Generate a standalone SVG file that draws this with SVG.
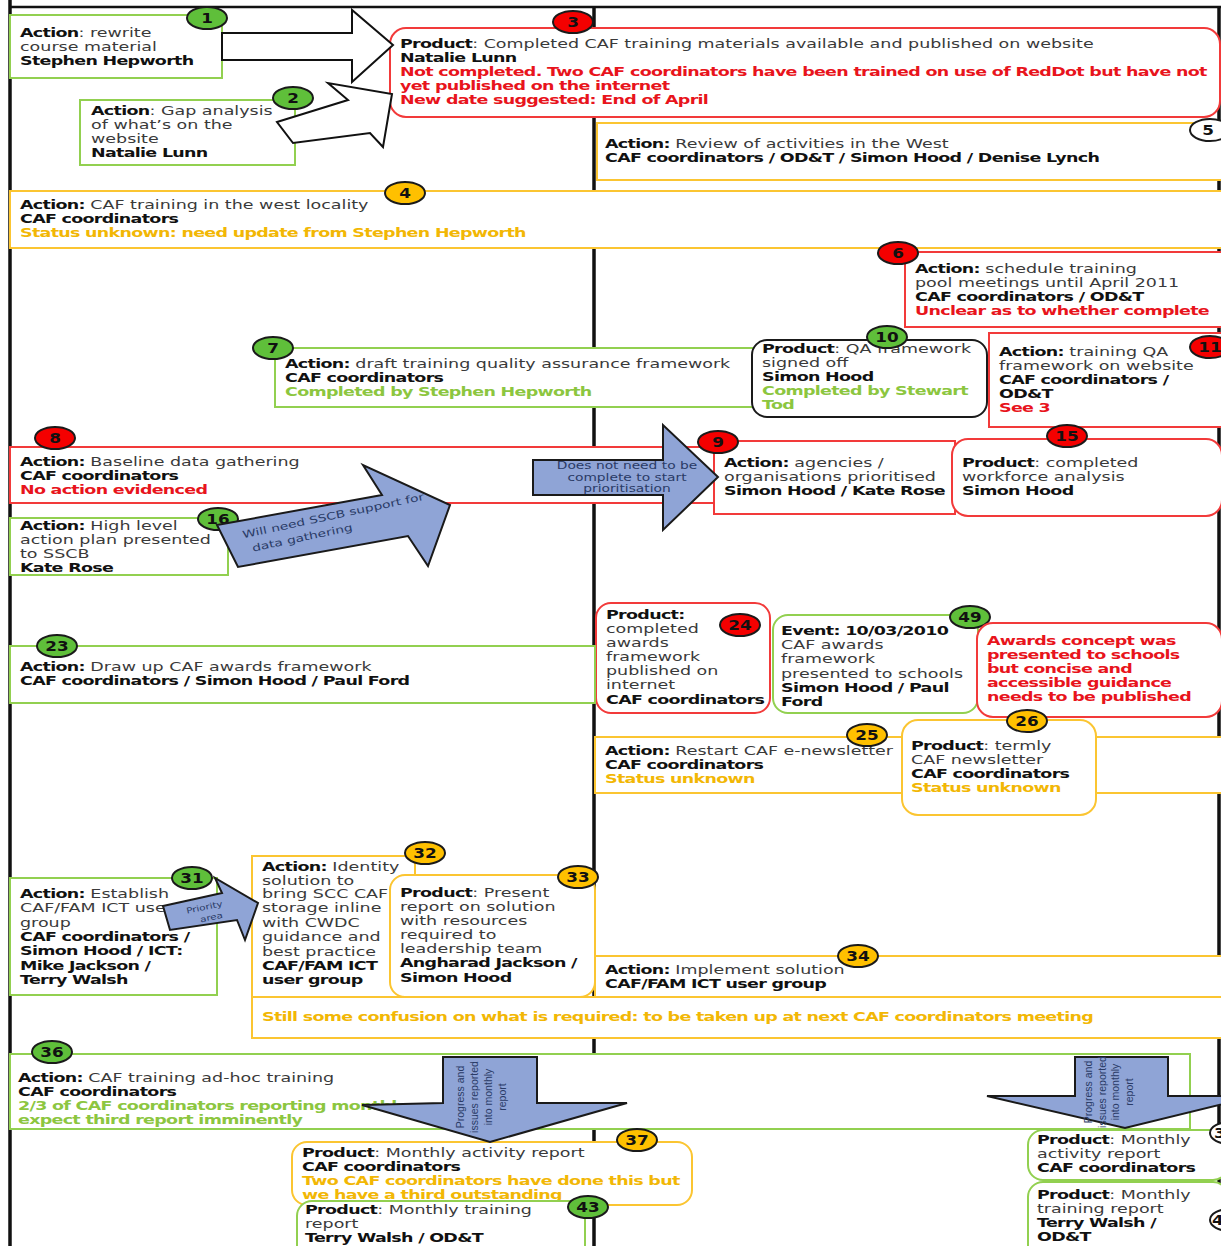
<svg xmlns="http://www.w3.org/2000/svg" width="1221" height="1246" viewBox="0 0 1221 1246">
<style>
.t{font-family:"DejaVu Sans",Verdana,sans-serif;font-size:12.5px;fill:#3a3a3a}
.b{font-weight:bold;fill:#111;letter-spacing:-0.5px}
.r{font-weight:bold;fill:#e8141c;letter-spacing:-0.5px}
.o{font-weight:bold;fill:#f2b705;letter-spacing:-0.5px}
.g{font-weight:bold;fill:#8cc63f;letter-spacing:-0.5px}
.bg{fill:#fff;stroke:#92d050;stroke-width:2}
.br{fill:#fff;stroke:#f23a3a;stroke-width:2}
.by{fill:#fff;stroke:#fbc531;stroke-width:2}
.bk{fill:#fff;stroke:#1a1a1a;stroke-width:2}
.cg{fill:#5fbf3a;stroke:#1a1a1a;stroke-width:2}
.cr{fill:#f40000;stroke:#1a1a1a;stroke-width:2}
.cy{fill:#ffc000;stroke:#1a1a1a;stroke-width:2}
.cw{fill:#fff;stroke:#1a1a1a;stroke-width:2}
.n{font-family:"DejaVu Sans",Verdana,sans-serif;font-weight:bold;font-size:14px;fill:#111;text-anchor:middle}
.ns{font-family:"DejaVu Sans",Verdana,sans-serif;font-weight:bold;font-size:14px;fill:#111}
.frame{stroke:#111;fill:none}
.ha{fill:#fff;stroke:#111;stroke-width:2;stroke-linejoin:miter}
.ba{fill:#8fa4d6;stroke:#1a1a1a;stroke-width:2;stroke-linejoin:miter}
.at{font-family:"DejaVu Sans",Verdana,sans-serif;font-size:10px;fill:#2a3b66;text-anchor:middle}
.av{font-family:"Liberation Sans",Arial,sans-serif;font-size:10.5px;fill:#2a3b66;text-anchor:middle}
</style>

<g id="frame">
<line class="frame" x1="10" y1="0" x2="10" y2="1246" stroke-width="3.5"/>
<line class="frame" x1="594" y1="7" x2="594" y2="1246" stroke-width="3.5"/>
<line class="frame" x1="1219" y1="7" x2="1219" y2="1246" stroke-width="3.5"/>
<line class="frame" x1="9" y1="7" x2="1221" y2="7" stroke-width="2.5"/>
</g>

<g id="n1">
<rect class="bg" x="10" y="15" width="212" height="63"/>
<text class="t" transform="translate(20,37) scale(1.4,1)"><tspan x="0" y="0"><tspan class="b">Action</tspan>: rewrite</tspan><tspan x="0" y="14">course material</tspan><tspan x="0" y="28" class="b">Stephen Hepworth</tspan></text>
<ellipse class="cg" cx="207" cy="18" rx="20" ry="11"/><text class="n" transform="translate(207,23) scale(1.2,1)">1</text>
</g>

<g id="n2">
<rect class="bg" x="80" y="100" width="215" height="65"/>
<text class="t" transform="translate(91,115) scale(1.4,1)"><tspan x="0" y="0"><tspan class="b">Action</tspan>: Gap analysis</tspan><tspan x="0" y="14">of what’s on the</tspan><tspan x="0" y="28">website</tspan><tspan x="0" y="42" class="b">Natalie Lunn</tspan></text>
<ellipse class="cg" cx="293" cy="98" rx="20" ry="11"/><text class="n" transform="translate(293,103) scale(1.2,1)">2</text>
</g>

<g id="n3">
<rect class="br" x="390" y="28" width="830" height="89" rx="16"/>
<text class="t" transform="translate(400,48) scale(1.4,1)"><tspan x="0" y="0"><tspan class="b">Product</tspan>: Completed CAF training materials available and published on website</tspan><tspan x="0" y="14" class="b">Natalie Lunn</tspan><tspan x="0" y="28" class="r">Not completed. Two CAF coordinators have been trained on use of RedDot but have not</tspan><tspan x="0" y="42" class="r">yet published on the internet</tspan><tspan x="0" y="56" class="r">New date suggested: End of April</tspan></text>
<ellipse class="cr" cx="573" cy="22" rx="20" ry="11"/><text class="n" transform="translate(573,27) scale(1.2,1)">3</text>
</g>

<g id="n5">
<rect class="by" x="597" y="123" width="625" height="57"/>
<text class="t" transform="translate(605,148) scale(1.4,1)"><tspan x="0" y="0"><tspan class="b">Action:</tspan> Review of activities in the West</tspan><tspan x="0" y="14" class="b">CAF coordinators / OD&amp;T / Simon Hood / Denise Lynch</tspan></text>
<ellipse class="cw" cx="1210" cy="130" rx="20" ry="11"/><text class="n" transform="translate(1208,135) scale(1.2,1)">5</text>
</g>

<g id="n4">
<rect class="by" x="10" y="191" width="1212" height="57"/>
<text class="t" transform="translate(20,209) scale(1.4,1)"><tspan x="0" y="0"><tspan class="b">Action:</tspan> CAF training in the west locality</tspan><tspan x="0" y="14" class="b">CAF coordinators</tspan><tspan x="0" y="28" class="o">Status unknown: need update from Stephen Hepworth</tspan></text>
<ellipse class="cy" cx="405" cy="193" rx="20" ry="11"/><text class="n" transform="translate(405,198) scale(1.2,1)">4</text>
</g>

<g id="n6">
<rect class="br" x="905" y="252" width="317" height="75"/>
<text class="t" transform="translate(915,273) scale(1.4,1)"><tspan x="0" y="0"><tspan class="b">Action:</tspan> schedule training</tspan><tspan x="0" y="14">pool meetings until April 2011</tspan><tspan x="0" y="28" class="b">CAF coordinators / OD&amp;T</tspan><tspan x="0" y="42" class="r">Unclear as to whether complete</tspan></text>
<ellipse class="cr" cx="898" cy="253" rx="20" ry="11"/><text class="n" transform="translate(898,258) scale(1.2,1)">6</text>
</g>

<g id="n7">
<rect class="bg" x="275" y="348" width="480" height="59"/>
<text class="t" transform="translate(285,368) scale(1.4,1)"><tspan x="0" y="0"><tspan class="b">Action:</tspan> draft training quality assurance framework</tspan><tspan x="0" y="14" class="b">CAF coordinators</tspan><tspan x="0" y="28" class="g">Completed by Stephen Hepworth</tspan></text>
<ellipse class="cg" cx="273" cy="348" rx="20" ry="11"/><text class="n" transform="translate(273,353) scale(1.2,1)">7</text>
</g>

<g id="n10">
<rect class="bk" x="752" y="340" width="235" height="77" rx="15"/>
<text class="t" transform="translate(762,353) scale(1.4,1)"><tspan x="0" y="0"><tspan class="b">Product</tspan>: QA framework</tspan><tspan x="0" y="14">signed off</tspan><tspan x="0" y="28" class="b">Simon Hood</tspan><tspan x="0" y="42" class="g">Completed by Stewart</tspan><tspan x="0" y="56" class="g">Tod</tspan></text>
<ellipse class="cg" cx="887" cy="337" rx="20" ry="11"/><text class="n" transform="translate(887,342) scale(1.2,1)">10</text>
</g>

<g id="n11">
<rect class="br" x="989" y="333" width="233" height="94"/>
<text class="t" transform="translate(999,356) scale(1.4,1)"><tspan x="0" y="0"><tspan class="b">Action:</tspan> training QA</tspan><tspan x="0" y="14">framework on website</tspan><tspan x="0" y="28" class="b">CAF coordinators /</tspan><tspan x="0" y="42" class="b">OD&amp;T</tspan><tspan x="0" y="56" class="r">See 3</tspan></text>
<ellipse class="cr" cx="1210" cy="347" rx="20" ry="11"/><text class="n" transform="translate(1210,352) scale(1.2,1)">11</text>
</g>

<g id="n8">
<rect class="br" x="10" y="447" width="705" height="56"/>
<text class="t" transform="translate(20,466) scale(1.4,1)"><tspan x="0" y="0"><tspan class="b">Action:</tspan> Baseline data gathering</tspan><tspan x="0" y="14" class="b">CAF coordinators</tspan><tspan x="0" y="28" class="r">No action evidenced</tspan></text>
<ellipse class="cr" cx="55" cy="438" rx="20" ry="11"/><text class="n" transform="translate(55,443) scale(1.2,1)">8</text>
</g>

<g id="n9">
<rect class="br" x="714" y="441" width="241" height="73"/>
<text class="t" transform="translate(724,467) scale(1.4,1)"><tspan x="0" y="0"><tspan class="b">Action:</tspan> agencies /</tspan><tspan x="0" y="14">organisations prioritised</tspan><tspan x="0" y="28" class="b">Simon Hood / Kate Rose</tspan></text>
<ellipse class="cr" cx="718" cy="442" rx="20" ry="11"/><text class="n" transform="translate(718,447) scale(1.2,1)">9</text>
</g>

<g id="n15">
<rect class="br" x="952" y="439" width="270" height="77" rx="16"/>
<text class="t" transform="translate(962,467) scale(1.4,1)"><tspan x="0" y="0"><tspan class="b">Product</tspan>: completed</tspan><tspan x="0" y="14">workforce analysis</tspan><tspan x="0" y="28" class="b">Simon Hood</tspan></text>
<ellipse class="cr" cx="1067" cy="436" rx="20" ry="11"/><text class="n" transform="translate(1067,441) scale(1.2,1)">15</text>
</g>

<g id="n16">
<rect class="bg" x="10" y="518" width="218" height="57"/>
<text class="t" transform="translate(20,530) scale(1.4,1)"><tspan x="0" y="0"><tspan class="b">Action:</tspan> High level</tspan><tspan x="0" y="14">action plan presented</tspan><tspan x="0" y="28">to SSCB</tspan><tspan x="0" y="42" class="b">Kate Rose</tspan></text>
<ellipse class="cg" cx="218" cy="519" rx="20" ry="11"/><text class="n" transform="translate(218,524) scale(1.2,1)">16</text>
</g>

<g id="n24">
<rect class="br" x="596" y="603" width="174" height="110" rx="15"/>
<text class="t" transform="translate(606,619) scale(1.4,1)"><tspan x="0" y="0" class="b">Product:</tspan><tspan x="0" y="14">completed</tspan><tspan x="0" y="28">awards</tspan><tspan x="0" y="42">framework</tspan><tspan x="0" y="56">published on</tspan><tspan x="0" y="70">internet</tspan><tspan x="0" y="85" class="b">CAF coordinators</tspan></text>
<ellipse class="cr" cx="740" cy="625" rx="20" ry="11"/><text class="n" transform="translate(740,630) scale(1.2,1)">24</text>
</g>

<g id="n49">
<rect class="bg" x="773" y="615" width="205" height="98" rx="15"/>
<text class="t" transform="translate(781,635) scale(1.4,1)"><tspan x="0" y="0" class="b">Event: 10/03/2010</tspan><tspan x="0" y="14">CAF awards</tspan><tspan x="0" y="28">framework</tspan><tspan x="0" y="43">presented to schools</tspan><tspan x="0" y="57" class="b">Simon Hood / Paul</tspan><tspan x="0" y="71" class="b">Ford</tspan></text>
<ellipse class="cg" cx="970" cy="617" rx="20" ry="11"/><text class="n" transform="translate(970,622) scale(1.2,1)">49</text>
</g>

<g id="n49note">
<rect class="br" x="977" y="623" width="245" height="94" rx="16"/>
<text class="t" transform="translate(987,645) scale(1.4,1)"><tspan x="0" y="0" class="r">Awards concept was</tspan><tspan x="0" y="14" class="r">presented to schools</tspan><tspan x="0" y="28" class="r">but concise and</tspan><tspan x="0" y="42" class="r">accessible guidance</tspan><tspan x="0" y="56" class="r">needs to be published</tspan></text>
</g>

<g id="n23">
<rect class="bg" x="10" y="646" width="585" height="57"/>
<text class="t" transform="translate(20,671) scale(1.4,1)"><tspan x="0" y="0"><tspan class="b">Action:</tspan> Draw up CAF awards framework</tspan><tspan x="0" y="14" class="b">CAF coordinators / Simon Hood / Paul Ford</tspan></text>
<ellipse class="cg" cx="57" cy="646" rx="20" ry="11"/><text class="n" transform="translate(57,651) scale(1.2,1)">23</text>
</g>

<g id="n25">
<rect class="by" x="595" y="737" width="627" height="56"/>
<text class="t" transform="translate(605,755) scale(1.4,1)"><tspan x="0" y="0"><tspan class="b">Action:</tspan> Restart CAF e-newsletter</tspan><tspan x="0" y="14" class="b">CAF coordinators</tspan><tspan x="0" y="28" class="o">Status unknown</tspan></text>
<ellipse class="cy" cx="867" cy="735" rx="20" ry="11"/><text class="n" transform="translate(867,740) scale(1.2,1)">25</text>
</g>

<g id="n26">
<rect class="by" x="902" y="720" width="194" height="95" rx="16"/>
<text class="t" transform="translate(911,750) scale(1.4,1)"><tspan x="0" y="0"><tspan class="b">Product</tspan>: termly</tspan><tspan x="0" y="14">CAF newsletter</tspan><tspan x="0" y="28" class="b">CAF coordinators</tspan><tspan x="0" y="42" class="o">Status unknown</tspan></text>
<ellipse class="cy" cx="1027" cy="721" rx="20" ry="11"/><text class="n" transform="translate(1027,726) scale(1.2,1)">26</text>
</g>

<g id="n31">
<rect class="bg" x="10" y="878" width="207" height="117"/>
<text class="t" transform="translate(20,898) scale(1.4,1)"><tspan x="0" y="0"><tspan class="b">Action:</tspan> Establish</tspan><tspan x="0" y="14">CAF/FAM ICT user</tspan><tspan x="0" y="29">group</tspan><tspan x="0" y="43" class="b">CAF coordinators /</tspan><tspan x="0" y="57" class="b">Simon Hood / ICT:</tspan><tspan x="0" y="72" class="b">Mike Jackson /</tspan><tspan x="0" y="86" class="b">Terry Walsh</tspan></text>
<ellipse class="cg" cx="192" cy="878" rx="20" ry="11"/><text class="n" transform="translate(192,883) scale(1.2,1)">31</text>
</g>

<g id="n32">
<rect class="by" x="252" y="856" width="163" height="141"/>
<text class="t" transform="translate(262,871) scale(1.4,1)"><tspan x="0" y="0"><tspan class="b">Action:</tspan> Identity</tspan><tspan x="0" y="14">solution to</tspan><tspan x="0" y="27">bring SCC CAF</tspan><tspan x="0" y="41">storage inline</tspan><tspan x="0" y="56">with CWDC</tspan><tspan x="0" y="70">guidance and</tspan><tspan x="0" y="85">best practice</tspan><tspan x="0" y="99" class="b">CAF/FAM ICT</tspan><tspan x="0" y="113" class="b">user group</tspan></text>
<ellipse class="cy" cx="425" cy="853" rx="20" ry="11"/><text class="n" transform="translate(425,858) scale(1.2,1)">32</text>
</g>

<g id="n33">
<rect class="by" x="390" y="875" width="205" height="122" rx="15"/>
<text class="t" transform="translate(400,897) scale(1.4,1)"><tspan x="0" y="0"><tspan class="b">Product</tspan>: Present</tspan><tspan x="0" y="14">report on solution</tspan><tspan x="0" y="28">with resources</tspan><tspan x="0" y="42">required to</tspan><tspan x="0" y="56">leadership team</tspan><tspan x="0" y="70" class="b">Angharad Jackson /</tspan><tspan x="0" y="85" class="b">Simon Hood</tspan></text>
<ellipse class="cy" cx="578" cy="877" rx="20" ry="11"/><text class="n" transform="translate(578,882) scale(1.2,1)">33</text>
</g>

<g id="n34">
<rect class="by" x="595" y="956" width="627" height="41"/>
<text class="t" transform="translate(605,974) scale(1.4,1)"><tspan x="0" y="0"><tspan class="b">Action:</tspan> Implement solution</tspan><tspan x="0" y="14" class="b">CAF/FAM ICT user group</tspan></text>
<ellipse class="cy" cx="858" cy="956" rx="20" ry="11"/><text class="n" transform="translate(858,961) scale(1.2,1)">34</text>
</g>

<g id="n34status">
<rect class="by" x="252" y="997" width="970" height="41"/>
<text class="t" transform="translate(262,1021) scale(1.4,1)"><tspan x="0" y="0" class="o">Still some confusion on what is required: to be taken up at next CAF coordinators meeting</tspan></text>
</g>

<g id="n36">
<rect class="bg" x="10" y="1054" width="1180" height="75"/>
<text class="t" transform="translate(18,1082) scale(1.4,1)"><tspan x="0" y="0"><tspan class="b">Action:</tspan> CAF training ad-hoc training</tspan><tspan x="0" y="14" class="b">CAF coordinators</tspan><tspan x="0" y="28" class="g">2/3 of CAF coordinators reporting monthly,</tspan><tspan x="0" y="42" class="g">expect third report imminently</tspan></text>
<ellipse class="cg" cx="52" cy="1052" rx="20" ry="11"/><text class="n" transform="translate(52,1057) scale(1.2,1)">36</text>
</g>

<g id="n37">
<rect class="by" x="292" y="1142" width="400" height="63" rx="15"/>
<text class="t" transform="translate(302,1157) scale(1.4,1)"><tspan x="0" y="0"><tspan class="b">Product</tspan>: Monthly activity report</tspan><tspan x="0" y="14" class="b">CAF coordinators</tspan><tspan x="0" y="28" class="o">Two CAF coordinators have done this but</tspan><tspan x="0" y="42" class="o">we have a third outstanding</tspan></text>
<ellipse class="cy" cx="637" cy="1140" rx="20" ry="11"/><text class="n" transform="translate(637,1145) scale(1.2,1)">37</text>
</g>

<g id="n43">
<rect class="bg" x="297" y="1201" width="288" height="70" rx="15"/>
<text class="t" transform="translate(305,1214) scale(1.4,1)"><tspan x="0" y="0"><tspan class="b">Product</tspan>: Monthly training</tspan><tspan x="0" y="14">report</tspan><tspan x="0" y="28" class="b">Terry Walsh / OD&amp;T</tspan></text>
<ellipse class="cg" cx="588" cy="1207" rx="20" ry="11"/><text class="n" transform="translate(588,1212) scale(1.2,1)">43</text>
</g>

<g id="n38">
<rect class="bg" x="1028" y="1130" width="200" height="50" rx="15"/>
<text class="t" transform="translate(1037,1144) scale(1.4,1)"><tspan x="0" y="0"><tspan class="b">Product</tspan>: Monthly</tspan><tspan x="0" y="14">activity report</tspan><tspan x="0" y="28" class="b">CAF coordinators</tspan></text>
<ellipse class="cw" cx="1230" cy="1133" rx="20" ry="11"/><text class="ns" transform="translate(1214,1138) scale(1.2,1)">3</text>
</g>

<g id="n44">
<rect class="bg" x="1028" y="1182" width="200" height="80" rx="15"/>
<text class="t" transform="translate(1037,1199) scale(1.4,1)"><tspan x="0" y="0"><tspan class="b">Product</tspan>: Monthly</tspan><tspan x="0" y="14">training report</tspan><tspan x="0" y="28" class="b">Terry Walsh /</tspan><tspan x="0" y="42" class="b">OD&amp;T</tspan></text>
<ellipse class="cw" cx="1230" cy="1220" rx="20" ry="11"/><text class="ns" transform="translate(1212,1225) scale(1.2,1)">44</text>
</g>

<g id="connectors">
<polygon class="ha" points="222,33 352,33 352,10 393,45 352,82 352,60 222,60"/>
<polygon class="ha" points="277,122 348,100 328,83 392,94 383,147 370,133 293,143"/>
<polygon class="ba" points="217,525 382,495 363,465 450,505 428,566 408,536 238,567"/>
<text class="at" transform="translate(334,519) rotate(-12) scale(1.38,1)">Will need SSCB support for</text>
<text class="at" transform="translate(303,541) rotate(-12) scale(1.38,1)">data gathering</text>
<polygon class="ba" points="533,460 663,460 663,425 718,477 663,530 663,495 533,495"/>
<text class="at" transform="translate(627,0) scale(1.38,1)"><tspan x="0" y="469">Does not need to be</tspan><tspan x="0" y="481">complete to start</tspan><tspan x="0" y="492">prioritisation</tspan></text>
<polygon class="ba" points="163,906 222,893 215,878 258,903 245,940 237,920 170,930"/>
<text class="at" style="font-size:8px" transform="translate(205,910) rotate(-12) scale(1.3,1)">Priority</text>
<text class="at" style="font-size:8px" transform="translate(212,920) rotate(-12) scale(1.3,1)">area</text>
<polygon class="ba" points="443,1057 537,1057 537,1103 627,1103 490,1142 362,1105 443,1103"/>
<text class="av" transform="translate(479,1097) rotate(-90)"><tspan x="0" y="-15">Progress and</tspan><tspan x="0" y="-1">issues reported</tspan><tspan x="0" y="13">into monthly</tspan><tspan x="0" y="27">report</tspan></text>
<polygon class="ba" points="1075,1057 1168,1057 1168,1096 1256,1096 1125,1128 987,1096 1075,1096"/>
<text class="av" transform="translate(1120,1092) rotate(-90)"><tspan x="0" y="-28">Progress and</tspan><tspan x="0" y="-14">issues reported</tspan><tspan x="0" y="-1">into monthly</tspan><tspan x="0" y="13">report</tspan></text>
</g>
</svg>
